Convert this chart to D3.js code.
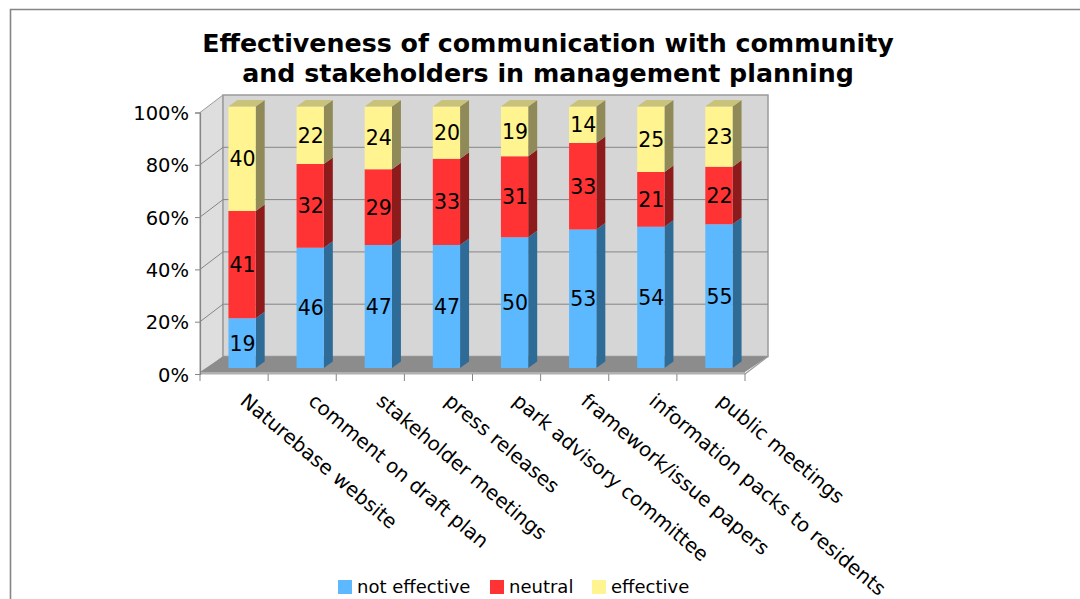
<!DOCTYPE html>
<html>
<head>
<meta charset="utf-8">
<script src="https://cdn.jsdelivr.net/npm/d3@7"></script>
<style>
  html, body { margin: 0; padding: 0; background: #fff; }
  svg { display: block; font-family: "DejaVu Sans", Verdana, sans-serif; }
</style>
</head>
<body>
<svg id="chart" width="1080" height="599"></svg>
<script>
// Survey results, percent of respondents per communication channel
const categories = [
  "Naturebase website",
  "comment on draft plan",
  "stakeholder meetings",
  "press releases",
  "park advisory committee",
  "framework/issue papers",
  "information packs to residents",
  "public meetings"
];
const notEffective = [19, 46, 47, 47, 50, 53, 54, 55];
const neutral      = [41, 32, 29, 33, 31, 33, 21, 22];
const effective    = [40, 22, 24, 20, 19, 14, 25, 23];
const seriesNames  = ["not effective", "neutral", "effective"];
const yTicks       = [0, 20, 40, 60, 80, 100];
const titleLines   = [
  "Effectiveness of communication with community",
  "and stakeholders in management planning"
];

// Face colours per series: front, side, top
const palette = {
  "not effective": { front: "#5cb9ff", side: "#2e6b97", top: "#4a95cf" },
  "neutral":       { front: "#ff3333", side: "#8e1b1b", top: "#c42828" },
  "effective":     { front: "#fff48f", side: "#8f8a58", top: "#c9c27b" }
};

const svg = d3.select("#chart");

// Outer frame (top and left edges)
svg.append("path")
  .attr("d", "M10.5,599 V9.5 H1080")
  .attr("fill", "none").attr("stroke", "#858585").attr("stroke-width", 1.6);

// Title
svg.append("g").selectAll("text").data(titleLines).join("text")
  .attr("x", 548).attr("y", (d, i) => 52 + i * 30)
  .attr("text-anchor", "middle")
  .attr("font-weight", "bold").attr("font-size", 25.3)
  .attr("fill", "#000")
  .text(d => d);

// Scales on the front plane
const x = d3.scaleBand().domain(categories).range([200, 745])
  .paddingInner(0.6).paddingOuter(0.3);
const y = d3.scaleLinear().domain([0, 100]).range([374, 112.5]);

// Depth vector of the box, and of the bars inside it
const DX = 23, DY = -17.5;
const BX = 8, BY = -6;      // bar front offset
const SX = 9, SY = -6.5;    // bar thickness

const x0 = 200, x1 = 745;
const poly = pts => "M" + pts.map(p => p.join(",")).join("L") + "Z";

// Left side wall
svg.append("path")
  .attr("d", poly([[x0, y(0)], [x0, y(100)], [x0 + DX, y(100) + DY], [x0 + DX, y(0) + DY]]))
  .attr("fill", "#dedede").attr("stroke", "#9a9a9a").attr("stroke-width", 1);

// Back wall
svg.append("path")
  .attr("d", poly([[x0 + DX, y(0) + DY], [x0 + DX, y(100) + DY], [x1 + DX, y(100) + DY], [x1 + DX, y(0) + DY]]))
  .attr("fill", "#d6d6d6").attr("stroke", "#9a9a9a").attr("stroke-width", 1.5);

// Grid lines on side and back walls
const grid = svg.append("g").attr("stroke", "#858585").attr("stroke-width", 1).attr("fill", "none");
grid.selectAll("path").data(yTicks.filter(t => t > 0 && t < 100)).join("path")
  .attr("d", t => `M${x0},${y(t)}L${x0 + DX},${y(t) + DY}L${x1 + DX},${y(t) + DY}`);

// Floor
svg.append("path")
  .attr("d", poly([[x0, y(0) - 2], [x1, y(0) - 2], [x1 + DX, y(0) + DY], [x0 + DX, y(0) + DY]]))
  .attr("fill", "#8c8c8c");
svg.append("rect")
  .attr("x", x0).attr("y", y(0) - 2).attr("width", x1 - x0).attr("height", 2.5)
  .attr("fill", "#b0b0b0");
svg.append("path")
  .attr("d", `M${x1},${y(0)}L${x1 + DX},${y(0) + DY}`)
  .attr("stroke", "#9a9a9a").attr("stroke-width", 1.2);

// Stacked data
const rows = categories.map((c, i) => ({
  category: c,
  "not effective": notEffective[i],
  "neutral": neutral[i],
  "effective": effective[i]
}));
const stacked = d3.stack().keys(seriesNames)(rows);

// Bars, segment by segment
const yb = v => y(v) + BY;
const bars = svg.append("g");
categories.forEach((c, i) => {
  const left = x(c) + BX, right = left + x.bandwidth();
  const g = bars.append("g");
  stacked.forEach((layer, k) => {
    const [lo, hi] = layer[i];
    const col = palette[layer.key];
    const top = yb(hi), bot = yb(lo);
    g.append("path")
      .attr("d", poly([[right, bot], [right, top], [right + SX, top + SY], [right + SX, bot + SY]]))
      .attr("fill", col.side);
    g.append("path")
      .attr("d", poly([[left, bot], [left, top], [right, top], [right, bot]]))
      .attr("fill", col.front);
    if (k === stacked.length - 1) {
      g.append("path")
        .attr("d", poly([[left, top], [left + SX, top + SY], [right + SX, top + SY], [right, top]]))
        .attr("fill", col.top);
    }
    g.append("text")
      .attr("x", (left + right) / 2 + 0.5)
      .attr("y", (top + bot) / 2 + 7.5)
      .attr("text-anchor", "middle")
      .attr("font-size", 20.5)
      .attr("fill", "#000")
      .text(hi - lo);
  });
});

// Value axis
const yAxis = svg.append("g")
  .attr("transform", `translate(${x0},0)`)
  .call(d3.axisLeft(y).tickValues(yTicks).tickFormat(d => d + "%").tickSize(5).tickPadding(6));
yAxis.select(".domain").attr("stroke", "#858585").attr("stroke-width", 1.2);
yAxis.selectAll(".tick line").attr("stroke", "#858585");
yAxis.selectAll(".tick text")
  .attr("font-family", "DejaVu Sans, Verdana, sans-serif")
  .attr("font-size", 19.5).attr("fill", "#000").attr("dy", "0.36em");

// Category axis: ticks at band boundaries
const bounds = d3.range(categories.length + 1).map(i => x0 + i * x.step());
svg.append("g").selectAll("line").data(bounds).join("line")
  .attr("x1", d => d).attr("x2", d => d)
  .attr("y1", y(0)).attr("y2", y(0) + 7)
  .attr("stroke", "#858585").attr("stroke-width", 1);

// Rotated category labels
svg.append("g").selectAll("text").data(categories).join("text")
  .attr("transform", d => `translate(${x(d) + x.bandwidth() / 2 + 5},403) rotate(40)`)
  .attr("font-size", 19.8).attr("fill", "#000")
  .text(d => d);

// Legend
const legendX = [338, 490, 592];
const legend = svg.append("g").selectAll("g").data(seriesNames).join("g")
  .attr("transform", (d, i) => `translate(${legendX[i]},580)`);
legend.append("rect")
  .attr("width", 14).attr("height", 14)
  .attr("fill", d => palette[d].front);
legend.append("text")
  .attr("x", 19).attr("y", 13)
  .attr("font-size", 18).attr("fill", "#000")
  .text(d => d);
</script>
</body>
</html>
